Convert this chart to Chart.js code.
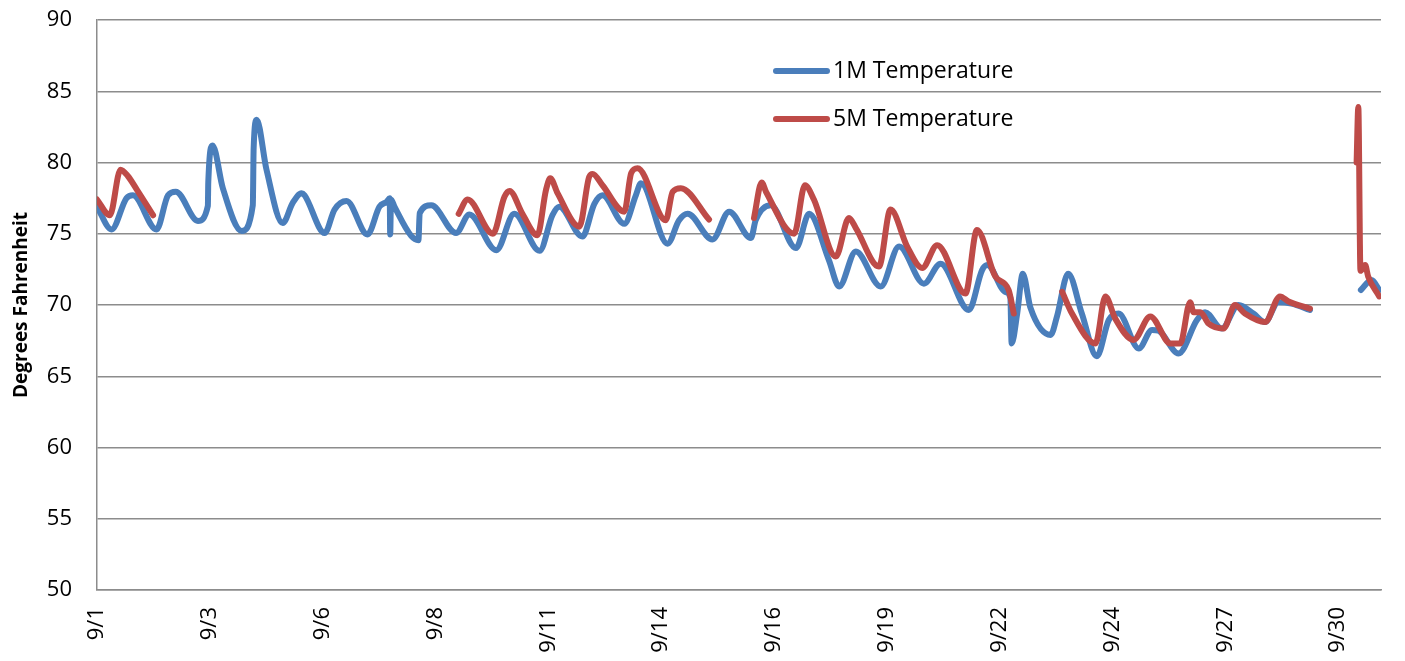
<!DOCTYPE html>
<html>
<head>
<meta charset="utf-8">
<script src="https://cdn.jsdelivr.net/npm/chart.js@4/dist/chart.umd.min.js"></script>
<style>
  html, body { margin: 0; padding: 0; background: #fff; }
  canvas { display: block; }
</style>
</head>
<body>
<canvas id="tempChart" width="1405" height="661"></canvas>
<script>
// Series labels and x-axis tick labels
const seriesNames = ['1M Temperature', '5M Temperature'];
const tickLabels = ['9/1', '9/3', '9/6', '9/8', '9/11', '9/14', '9/16', '9/19', '9/22', '9/24', '9/27', '9/30'];

// 1M sensor: day offset from 9/1 and temperature (null = no reading)
const blueDays = [
    0.00, 0.34, 0.69, 0.84, 1.39, 1.66, 1.84, 2.36, 2.59, 2.60, 2.70, 2.94, 3.38, 3.64, 3.66, 3.73,
    3.96, 4.34, 4.57, 4.78, 4.85, 5.32, 5.55, 5.83, 6.32, 6.60, 6.77, 6.84, 6.85, 6.87, 6.95, 7.34,
    7.51, 7.54, 7.81, 8.39, 8.70, 9.33, 9.75, 10.34, 10.64, 10.80, 11.34, 11.62, 11.81, 12.32, 12.59, 12.71,
    13.33, 13.60, 13.80, 14.38, 14.77, 15.28, 15.39, 15.74, 16.33, 16.64, 17.10, 17.34, 17.73, 18.31, 18.74, 19.32,
    19.71, 20.37, 20.68, 20.80, 21.23, 21.34, 21.37, 21.50, 21.63, 21.81, 22.28, 22.43, 22.69, 23.01, 23.36, 23.64,
    23.87, 24.34, 24.65, 24.80, 25.27, 25.70, 25.89, 26.28, 26.67, 27.02, 27.29, 27.60, 27.91, 28.34, 28.90,
    29.53, 29.78, 29.96
];
const blueTemps = [
    76.9, 75.3, 77.5, 77.7, 75.3, 77.7, 77.95, 75.9, 76.95, 78.6, 81.2, 78.2, 75.2, 77.0, 81.0, 83.0,
    79.5, 75.75, 77.15, 77.85, 77.7, 75.05, 76.7, 77.3, 74.95, 76.9, 77.25, 77.5, 74.95, 77.4, 76.9, 74.85,
    74.55, 76.45, 77.0, 75.05, 76.35, 73.85, 76.4, 73.8, 76.3, 76.9, 74.8, 77.1, 77.7, 75.7, 77.7, 78.55,
    74.3, 75.95, 76.4, 74.6, 76.55, 74.7, 75.95, 77.0, 74.0, 76.4, 73.15, 71.3, 73.75, 71.3, 74.1, 71.5,
    72.9, 69.65, 72.45, 72.8, 70.9, 70.5, 67.3, 69.4, 72.2, 69.8, 67.9, 69.2, 72.2, 69.4, 66.4, 68.95,
    69.4, 66.95, 68.25, 68.2, 66.6, 68.95, 69.5, 68.35, 70.0, 69.4, 68.8, 70.2, 70.1, 69.65, null,
    71.05, 71.75, 71.05
];

// 5M sensor
const redDays = [
    0.00, 0.30, 0.55, 0.72, 0.93, 1.31, 4.00,
    8.45, 8.66, 9.25, 9.52, 9.64, 9.94, 10.29, 10.49, 10.59, 10.76, 11.27, 11.50, 11.58, 11.81, 12.32, 12.48,
    12.63, 13.29, 13.45, 13.64, 14.30, 14.80,
    15.35, 15.53, 15.63, 16.29, 16.54, 16.75, 17.26, 17.57, 17.73, 18.27, 18.54, 18.93, 19.28, 19.63, 20.29,
    20.56, 20.99, 21.30, 21.42, 22.00,
    22.55, 22.78, 23.33, 23.56, 23.79, 24.22, 24.61, 25.08, 25.31, 25.54, 25.62, 25.78, 25.97, 26.32, 26.59,
    26.82, 27.29, 27.64, 27.84, 28.34, 28.90,
    29.43, 29.47, 29.52, 29.63, 29.70, 29.96
];
const redTemps = [
    77.4, 76.3, 79.5, 79.05, 78.1, 76.3, null,
    76.4, 77.4, 75.0, 77.6, 78.0, 76.4, 74.9, 78.07, 78.9, 77.85, 75.5, 79.0, 79.2, 78.4, 76.55, 79.25,
    79.6, 75.95, 77.95, 78.2, 76.0, null,
    76.1, 78.6, 77.95, 75.0, 78.4, 77.4, 73.4, 76.1, 75.4, 72.7, 76.7, 74.1, 72.6, 74.2, 70.8,
    75.26, 72.0, 71.05, 69.4, null,
    70.93, 69.4, 67.3, 70.6, 69.05, 67.55, 69.2, 67.3, 67.3, 70.2, 69.5, 69.5, 68.7, 68.35, 70.0,
    69.4, 68.8, 70.6, 70.25, 69.75, null,
    80.0, 83.9, 72.4, 72.8, 72.0, 70.6
];

const blueColor = '#4A7EBB';
const redColor = '#BE4B48';
const gridColor = '#8C8C8C';

Chart.defaults.font.family = "'Open Sans', sans-serif";
Chart.defaults.color = '#000';

function toPoints(days, temps) {
    return days.map((d, i) => ({ x: d, y: temps[i] }));
}

// Legend drawn inside the plot area, like the original
const insideLegend = {
    id: 'insideLegend',
    afterDraw(chart) {
        const ctx = chart.ctx;
        const items = chart.data.datasets.map(ds => ({ label: ds.label, color: ds.borderColor }));
        ctx.save();
        ctx.font = "23px 'Open Sans', sans-serif";
        ctx.textBaseline = 'middle';
        items.forEach((item, i) => {
            const y = 71 + i * 48;
            ctx.strokeStyle = item.color;
            ctx.lineWidth = 6;
            ctx.lineCap = 'round';
            ctx.beginPath();
            ctx.moveTo(776, y);
            ctx.lineTo(827, y);
            ctx.stroke();
            ctx.fillStyle = '#000';
            ctx.fillText(item.label, 833, y);
        });
        ctx.restore();
    }
};

const ctx = document.getElementById('tempChart').getContext('2d');
new Chart(ctx, {
    type: 'line',
    data: {
        datasets: [
            {
                label: seriesNames[0],
                data: toPoints(blueDays, blueTemps),
                borderColor: blueColor,
                borderWidth: 6,
                order: 1
            },
            {
                label: seriesNames[1],
                data: toPoints(redDays, redTemps),
                borderColor: redColor,
                borderWidth: 6,
                order: 0
            }
        ]
    },
    options: {
        responsive: false,
        animation: false,
        layout: { padding: { left: 0, top: 20, right: 24, bottom: 0 } },
        elements: {
            point: { radius: 0 },
            line: {
                cubicInterpolationMode: 'monotone',
                borderCapStyle: 'round',
                borderJoinStyle: 'round'
            }
        },
        plugins: {
            legend: { display: false },
            tooltip: { enabled: false }
        },
        scales: {
            x: {
                type: 'linear',
                min: 0,
                max: 30,
                grid: { display: false, drawTicks: false },
                border: { display: true, color: gridColor, width: 1.5 },
                afterBuildTicks: scale => {
                    const step = 29 / (tickLabels.length - 1);
                    scale.ticks = tickLabels.map((_, i) => ({ value: i * step }));
                },
                afterFit: scale => { scale.height = 71; },
                ticks: {
                    autoSkip: false,
                    minRotation: 90,
                    maxRotation: 90,
                    padding: 17,
                    font: { size: 22 },
                    callback: (value, index) => tickLabels[index]
                }
            },
            y: {
                min: 50,
                max: 90,
                grid: { color: gridColor, lineWidth: 1.5, drawTicks: false },
                border: { display: true, color: gridColor, width: 1.5 },
                afterFit: scale => {
                    scale.width = 97;
                    scale.paddingTop = 0;
                    scale.paddingBottom = 0;
                },
                ticks: {
                    stepSize: 5,
                    padding: 25,
                    font: { size: 22 }
                },
                title: {
                    display: true,
                    text: 'Degrees Fahrenheit',
                    font: { size: 19, weight: 'bold' },
                    padding: { top: 10, bottom: 0 }
                }
            }
        }
    },
    plugins: [insideLegend]
});
</script>
</body>
</html>
